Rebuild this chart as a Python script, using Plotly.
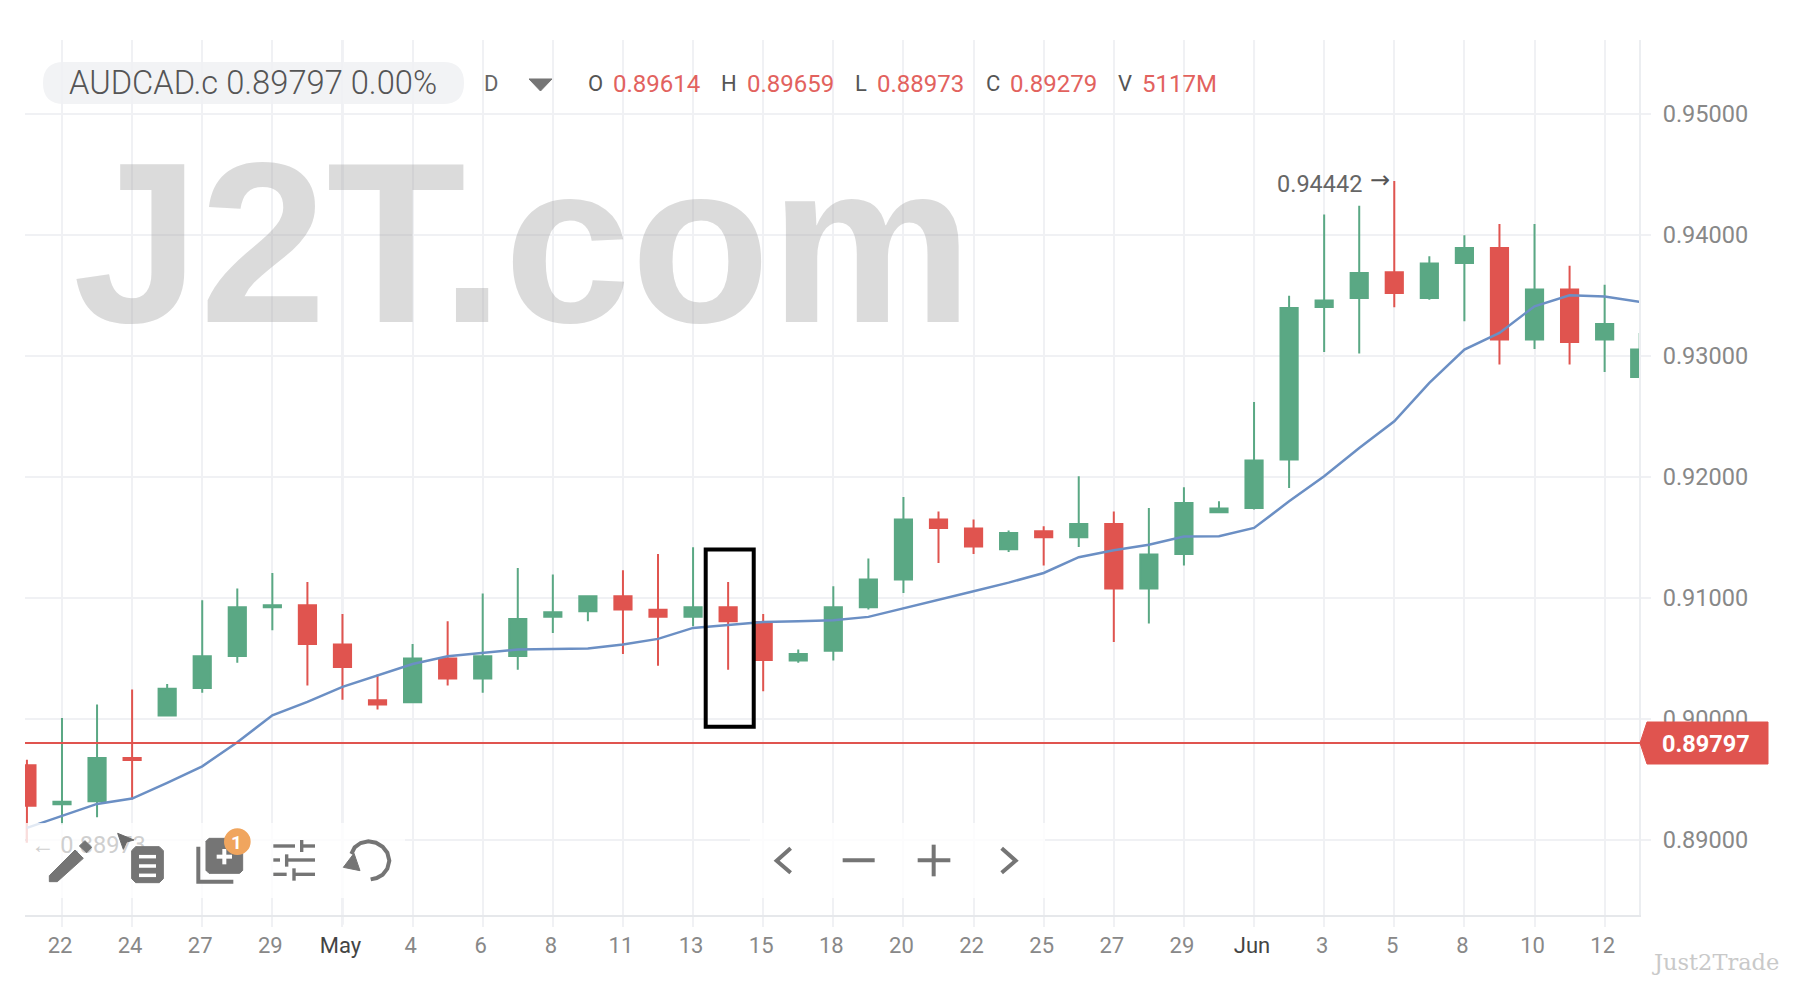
import plotly.graph_objects as go

# candle positions, first one is the clipped 21 Apr bar
candle_x = list(range(-1, 46))

open_p = [.89614, .89291, .89316, .89674, .90024, .90253, .90517, .90920, .90936, .90611, .90151, .90134,
          .90495, .90330, .90517, .90842, .90886, .91010, .90898, .90842, .90920, .90798, .90479, .90561,
          .90920, .91148, .91644, .91570, .91399, .91548, .91498, .91608, .91074, .91360, .91705, .91740,
          .92140, .93402, .93476, .93688, .93476, .93765, .93889, .93132, .93545, .93132, .92823]
high_p = [.89659, .90005, .90115, .90239, .90286, .90977, .91074, .91203, .91129, .90864, .90363, .90616,
          .90804, .91033, .91245, .91190, .91010, .91225, .91360, .91415, .91129, .90864, .90570, .91093,
          .91322, .91830, .91710, .91644, .91553, .91589, .92002, .91710, .91740, .91911, .91795, .92616,
          .93495, .94165, .94239, .94442, .93820, .93994, .94088, .94088, .93743, .93586, .93187]
low_p = [.88973, .89123, .89184, .89330, .90024, .90212, .90460, .90729, .90272, .90156, .90074, .90134,
         .90272, .90212, .90404, .90707, .90804, .90534, .90437, .90763, .90404, .90225, .90460, .90479,
         .90900, .91038, .91286, .91360, .91377, .91264, .91418, .90633, .90785, .91264, .91705, .91727,
         .91906, .93030, .93016, .93399, .93462, .93283, .92925, .93054, .92925, .92864, .92823]
close_p = [.89279, .89311, .89674, .89658, .90247, .90515, .90920, .90936, .90616, .90426, .90115, .90495,
           .90330, .90515, .90823, .90878, .91010, .90900, .90842, .90920, .90804, .90484, .90534, .90920,
           .91148, .91644, .91575, .91421, .91534, .91498, .91608, .91074, .91355, .91782, .91735, .92132,
           .93393, .93454, .93683, .93517, .93760, .93889, .93132, .93545, .93112, .93261, .93049]

ma_line = [.89096, .89192, .89294, .89338, .89468, .89605, .89804, .90027, .90137, .90261, .90358, .90451,
           .90515, .90542, .90570, .90575, .90578, .90611, .90658, .90749, .90776, .90798, .90804, .90812,
           .90840, .90909, .90983, .91052, .91123, .91203, .91333, .91391, .91437, .91504, .91506, .91575,
           .91795, .92002, .92236, .92457, .92774, .93049, .93187, .93407, .93498, .93487, .93443]

date_ticks = list(range(0, 46, 2))
date_labels = ["22", "24", "27", "29", "May", "4", "6", "8", "11", "13", "15", "18", "20", "22", "25", "27",
               "29", "Jun", "3", "5", "8", "10", "12"]
price_ticks = [.89, .90, .91, .92, .93, .94, .95]
last_price = .89797

GREEN = "#5aa884"
RED = "#e0544f"
RED_TEXT = "#e2625e"
GREY = "#757575"
GRID = "#f0f1f4"
FONT = "Roboto"

# plot area in page pixels
L, R, T, B = 25, 1639, 40, 915


def px(x, y):
    return (x - L) / (R - L), (B - y) / (B - T)


def xy(x, y):
    a, b = px(x, y)
    return f"{a:.5f},{b:.5f}"


def path(points, close=False):
    out = ""
    for i, (x, y) in enumerate(points):
        out += ("M" if i == 0 else "L") + xy(x, y) + " "
    return out + ("Z" if close else "")


def note(text, x, y, size=22, color="#888888", anchor="left", family=FONT, weight=400):
    a, b = px(x, y)
    return dict(text=text, x=a, y=b, xref="paper", yref="paper", showarrow=False, xanchor=anchor, yanchor="middle",
                font=dict(size=size, color=color, family=family, weight=weight), borderpad=0, borderwidth=0)


def zoom_a(zx, zy):
    # left toolbar crop coordinates
    return 20 + zx / 3, 810 + zy / 3


def zoom_b(zx, zy):
    # middle toolbar crop coordinates
    return 750 + zx / 3, 810 + zy / 3


def stroke(points, width=3.6, color=GREY):
    return dict(type="path", xref="paper", yref="paper", path=path(points), line=dict(color=color, width=width),
                layer="above")


def solid(points, color=GREY):
    return dict(type="path", xref="paper", yref="paper", path=path(points, True), fillcolor=color,
                line=dict(color=color, width=1), layer="above")


def box(x0, y0, x1, y1, color, radius=0):
    return solid([(x0 + radius, y0), (x1 - radius, y0), (x1, y0 + radius), (x1, y1 - radius), (x1 - radius, y1),
                  (x0 + radius, y1), (x0, y1 - radius), (x0, y0 + radius)], color)


fig = go.Figure()
fig.add_trace(go.Candlestick(x=candle_x, open=open_p, high=high_p, low=low_p, close=close_p,
                             increasing=dict(line=dict(color=GREEN, width=2), fillcolor=GREEN),
                             decreasing=dict(line=dict(color=RED, width=2), fillcolor=RED),
                             hoverinfo="skip", showlegend=False))
fig.add_trace(go.Scatter(x=candle_x, y=ma_line, mode="lines", line=dict(color="#6b8fc4", width=2.5),
                         hoverinfo="skip", showlegend=False))

shapes = []
# stronger month gridlines
for month_x in [8, 34]:
    shapes.append(dict(type="line", xref="x", yref="paper", x0=month_x, x1=month_x, y0=-0.011, y1=1,
                       line=dict(color="#e2e4e9", width=2), layer="below"))

# last price line and the black marker box
shapes.append(dict(type="line", xref="paper", yref="y", x0=0, x1=1.001, y0=last_price, y1=last_price,
                   line=dict(color=RED, width=2), layer="above"))
shapes.append(dict(type="rect", xref="x", yref="y", x0=18.36, x1=19.73, y0=.89932, y1=.91396,
                   line=dict(color="#000000", width=4), layer="above"))

# price tag
shapes.append(solid([(1640, 743), (1647, 722), (1768, 722), (1768, 764), (1647, 764)], RED))

# pill behind the symbol
pill = ("M" + xy(64, 62) + " L" + xy(443, 62) + " Q" + xy(464, 62) + " " + xy(464, 83) + " Q" + xy(464, 104) + " "
        + xy(443, 104) + " L" + xy(64, 104) + " Q" + xy(43, 104) + " " + xy(43, 83) + " Q" + xy(43, 62) + " "
        + xy(64, 62) + " Z")
shapes.append(dict(type="path", xref="paper", yref="paper", layer="below", fillcolor="#f2f3f5", line=dict(width=0),
                   path=pill))
shapes.append(solid([(529, 79), (552, 79), (540.5, 91)]))

# faded strips under the toolbars
for x0, x1 in [(26, 405), (750, 1045)]:
    a0, b0 = px(x0, 823)
    a1, b1 = px(x1, 898)
    shapes.append(dict(type="rect", xref="paper", yref="paper", x0=a0, x1=a1, y0=b0, y1=b1, fillcolor="#ffffff",
                       opacity=0.8, line=dict(width=0), layer="above"))

# low label, kept as a shape label so the pencil sits over it
a0, b0 = px(28, 835)
a1, b1 = px(146, 851)
shapes.append(dict(type="rect", xref="paper", yref="paper", x0=a0, x1=a1, y0=b0, y1=b1, line=dict(width=0),
                   fillcolor="rgba(255,255,255,0)", layer="above",
                   label=dict(text="← 0.88973", textposition="middle left",
                              font=dict(size=23.5, color="#cfcfcf", family=FONT), padding=0)))

# pencil
shapes.append(solid([zoom_a(*p) for p in [(88, 197), (165, 120), (190, 145), (112, 215), (88, 215)]]))
shapes.append(solid([zoom_a(*p) for p in [(178, 108), (195, 92), (215, 112), (200, 128)]]))
# cursor
shapes.append(solid([zoom_a(*p) for p in [(293, 70), (342, 90), (320, 96), (310, 118)]], "#6a6a6a"))
# list
shapes.append(box(*zoom_a(335, 110), *zoom_a(430, 218), GREY, 4))
for zy in [140, 168, 196]:
    shapes.append(stroke([zoom_a(357, zy), zoom_a(408, zy)], 3.5, "#ffffff"))
# add study
shapes.append(box(*zoom_a(558, 85), *zoom_a(668, 190), GREY, 3))
shapes.append(stroke([zoom_a(535, 110), zoom_a(535, 215), zoom_a(640, 215)], 4))
shapes.append(stroke([zoom_a(590, 140), zoom_a(636, 140)], 4, "#ffffff"))
shapes.append(stroke([zoom_a(613, 117), zoom_a(613, 163)], 4, "#ffffff"))
a0, b0 = px(*zoom_a(612, 55))
a1, b1 = px(*zoom_a(692, 135))
shapes.append(dict(type="circle", xref="paper", yref="paper", x0=a0, x1=a1, y0=b0, y1=b1, fillcolor="#f0a55e",
                   line=dict(width=0), layer="above"))
# sliders
for row in [[(760, 108, 825), (845, 108, 885)], [(760, 150, 780), (800, 150, 885)], [(760, 193, 800), (822, 193, 885)]]:
    for x0, y0, x1 in row:
        shapes.append(stroke([zoom_a(x0, y0), zoom_a(x1, y0)], 3.4))
for zx, y0, y1 in [(845, 90, 126), (800, 133, 170), (822, 175, 212)]:
    shapes.append(stroke([zoom_a(zx, y0), zoom_a(zx, y1)], 3.4))
# undo
arc = [(1052, 208), (1070, 204), (1088, 194), (1102, 176), (1108, 152), (1102, 128), (1088, 110), (1068, 98),
       (1045, 94), (1022, 99), (1004, 112), (994, 132)]
shapes.append(stroke([zoom_a(*p) for p in arc], 4))
shapes.append(solid([zoom_a(*p) for p in [(970, 172), (1002, 130), (1020, 182)]]))
# middle toolbar
shapes.append(stroke([zoom_b(122, 115), zoom_b(80, 152), zoom_b(122, 188)], 4))
shapes.append(stroke([zoom_b(278, 151), zoom_b(374, 151)], 4))
shapes.append(stroke([zoom_b(503, 151), zoom_b(601, 151)], 4))
shapes.append(stroke([zoom_b(551, 104), zoom_b(551, 199)], 4))
shapes.append(stroke([zoom_b(755, 115), zoom_b(797, 152), zoom_b(755, 188)], 4))

annotations = [
    note("J2T.com", 73, 243, 228, "rgba(165,165,165,0.4)", family="Liberation Sans", weight=700),
    note("AUDCAD.c 0.89797 0.00%", 69, 83, 32.7, "#555555", weight=300),
    note("D", 484, 84, 22, "#666666"),
    note("O", 588, 84, 22, "#555555"),
    note("0.89614", 613, 84, 24, RED_TEXT),
    note("H", 721, 84, 22, "#555555"),
    note("0.89659", 747, 84, 24, RED_TEXT),
    note("L", 855, 84, 22, "#555555"),
    note("0.88973", 877, 84, 24, RED_TEXT),
    note("C", 986, 84, 22, "#555555"),
    note("0.89279", 1010, 84, 24, RED_TEXT),
    note("V", 1118, 84, 22, "#555555"),
    note("5117M", 1142, 84, 24, RED_TEXT),
    note("0.94442", 1277, 184, 23.5, "#666666"),
    note("→", 1370, 180, 24, "#555555", family="DejaVu Sans"),
    note("0.89797", 1662, 744, 23.5, "#ffffff", weight=700),
    note("1", 237, 842, 19, "#ffffff", anchor="center", weight=700),
    note("Just2Trade", 1652, 962, 22.5, "#c9c9c9", family="DejaVu Serif"),
]

tick_text = [f'<span style="color:#444444">{t}</span>' if t in ("May", "Jun") else t for t in date_labels]

fig.update_layout(
    width=1797, height=990, autosize=False,
    margin=dict(l=L, r=1797 - R, t=T, b=990 - B),
    paper_bgcolor="#ffffff", plot_bgcolor="#ffffff",
    boxgap=0.3,
    font=dict(family=FONT, size=22, color="#888888"),
    shapes=shapes, annotations=annotations,
    xaxis=dict(range=[-1.055, 44.98], rangeslider=dict(visible=False), tickmode="array", tickvals=date_ticks,
               ticktext=tick_text, showgrid=True, gridcolor=GRID, gridwidth=2, ticks="outside", ticklen=10,
               tickcolor=GRID, tickwidth=2, showline=True, linecolor="#e6e8eb", linewidth=2, zeroline=False,
               ticklabelstandoff=0, ticklabelshift=-2, tickfont=dict(size=22, color="#888888")),
    yaxis=dict(range=[.88376, .95608], side="right", tickmode="array", tickvals=price_ticks, tickformat=".5f",
               showgrid=True, gridcolor=GRID, gridwidth=2, ticks="outside", ticklen=10, tickcolor=GRID, tickwidth=2,
               showline=True, linecolor="#eceef1", linewidth=2, zeroline=False, ticklabelstandoff=7,
               tickfont=dict(size=23.5, color="#888888")),
)

fig.write_html("out.html", config=dict(displayModeBar=False),
               post_script="document.body.style.margin='0';")
